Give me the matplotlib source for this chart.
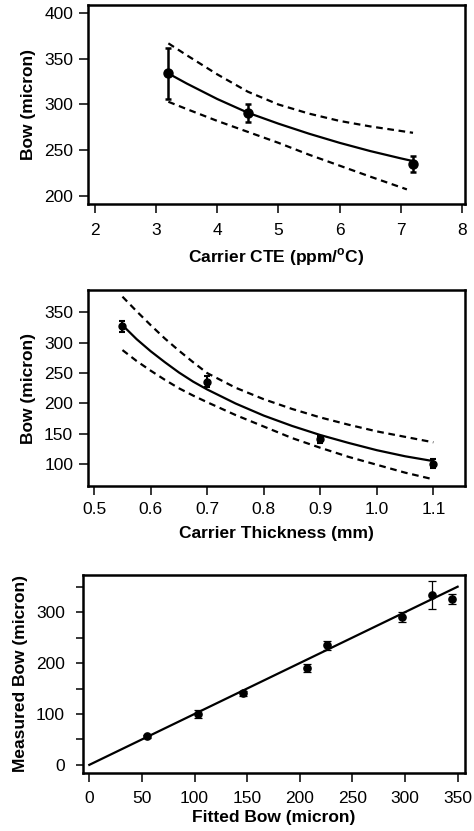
import matplotlib
matplotlib.use("Agg")
import matplotlib.pyplot as plt
from matplotlib.ticker import MultipleLocator

# carrier CTE study: measured bow with error, fitted curve and confidence band
cte = [3.2, 4.5, 7.2]
cte_bow = [334, 291, 235]
cte_err = [28, 10, 9]
cte_fit_x = [3.2, 3.5, 4.0, 4.5, 5.0, 5.5, 6.0, 6.5, 7.0, 7.2]
cte_fit = [334, 323, 306, 291, 279, 268, 258, 249, 241, 238]
cte_hi = [367, 354, 333, 314, 300, 290, 282, 276, 271, 269]
cte_lo_x = [3.2, 3.5, 4.0, 4.5, 5.0, 5.5, 6.0, 6.5, 7.1]
cte_lo = [303, 295, 282, 270, 258, 245, 233, 221, 207]

# carrier thickness study
thick = [0.55, 0.70, 0.90, 1.10]
thick_bow = [327, 236, 141, 101]
thick_err = [9, 9, 6, 8]
thick_fit_x = [0.55, 0.575, 0.60, 0.625, 0.65, 0.675, 0.70, 0.75, 0.80,
               0.85, 0.90, 0.95, 1.00, 1.05, 1.10]
thick_fit = [329, 306, 286, 268, 251, 236, 223, 200, 180, 163, 148, 135,
             123, 113, 105]
thick_hi = [376, 352, 329, 307, 287, 268, 250, 226, 207, 191, 177, 165,
            154, 145, 136]
thick_lo = [288, 270, 254, 239, 225, 213, 202, 181, 162, 143, 127, 112,
            99, 86, 75]

# measured vs fitted bow, all samples
fitted = [55, 103, 146, 207, 226, 297, 326, 345]
measured = [56, 100, 141, 191, 235, 291, 334, 326]
measured_err = [3, 8, 5, 8, 9, 10, 27, 9]
unity = [0, 350]

plt.rcParams.update({
    "font.family": ["Liberation Sans", "DejaVu Sans"],
    "font.size": 12.5,
    "axes.linewidth": 1.8,
    "xtick.direction": "out",
    "ytick.direction": "out",
    "xtick.major.size": 6.7,
    "ytick.major.size": 6.7,
    "ytick.minor.size": 6.7,
    "xtick.major.width": 1.1,
    "ytick.major.width": 1.1,
    "ytick.minor.width": 1.1,
    "xtick.major.pad": 7,
    "ytick.major.pad": 4,
    "mathtext.fontset": "custom",
    "mathtext.rm": "Liberation Sans:bold",
})

DASH = (0, (3, 2.1))

fig = plt.figure(figsize=(4.74, 8.31), dpi=100)
ax1 = fig.add_axes([88 / 474, 1 - 204 / 831, 377 / 474, 199 / 831])
ax2 = fig.add_axes([88 / 474, 1 - 486 / 831, 377 / 474, 196 / 831])
ax3 = fig.add_axes([83 / 474, 1 - 773 / 831, 382 / 474, 198 / 831])

# top: bow vs carrier CTE
ax1.plot(cte_fit_x, cte_fit, color="black", lw=1.6)
ax1.plot(cte_fit_x, cte_hi, color="black", lw=1.6, linestyle=DASH)
ax1.plot(cte_lo_x, cte_lo, color="black", lw=1.6, linestyle=DASH)
ax1.errorbar(cte, cte_bow, yerr=cte_err, fmt="o", color="black",
             markersize=6.5, elinewidth=1.8, capsize=2.5, capthick=1.8)
ax1.set_xlim(1.886, 8.05)
ax1.set_ylim(191, 409)
ax1.xaxis.set_major_locator(MultipleLocator(1))
ax1.yaxis.set_major_locator(MultipleLocator(50))
ax1.set_xlabel(r"Carrier CTE (ppm/$^{\mathrm{o}}$C)", fontweight="bold",
               labelpad=6)
ax1.set_ylabel("Bow (micron)", fontweight="bold", labelpad=6)

# middle: bow vs carrier thickness
ax2.plot(thick_fit_x, thick_fit, color="black", lw=1.6)
ax2.plot(thick_fit_x, thick_hi, color="black", lw=1.6, linestyle=DASH)
ax2.plot(thick_fit_x, thick_lo, color="black", lw=1.6, linestyle=DASH)
ax2.errorbar(thick, thick_bow, yerr=thick_err, fmt="o", color="black",
             markersize=5, elinewidth=1.5, capsize=2.5, capthick=1.5)
ax2.set_xlim(0.489, 1.156)
ax2.set_ylim(64, 387)
ax2.xaxis.set_major_locator(MultipleLocator(0.1))
ax2.yaxis.set_major_locator(MultipleLocator(50))
ax2.xaxis.set_major_formatter(lambda v, pos: f"{v:.1f}")
ax2.tick_params(axis="x", pad=5)
ax2.set_xlabel("Carrier Thickness (mm)", fontweight="bold", labelpad=6)
ax2.set_ylabel("Bow (micron)", fontweight="bold", labelpad=6)

# bottom: measured vs fitted
ax3.plot(unity, unity, color="black", lw=1.6)
ax3.errorbar(fitted, measured, yerr=measured_err, fmt="o", color="black",
             markersize=5.2, elinewidth=0.9, capsize=3, capthick=0.9)
ax3.set_xlim(-6, 357)
ax3.set_ylim(-16, 373)
ax3.xaxis.set_major_locator(MultipleLocator(50))
ax3.yaxis.set_major_locator(MultipleLocator(100))
ax3.yaxis.set_minor_locator(MultipleLocator(50))
ax3.tick_params(axis="x", pad=6.5)
ax3.tick_params(axis="y", which="both", length=5, pad=8)
ax3.set_xlabel("Fitted Bow (micron)", fontweight="bold", labelpad=2.5)
ax3.set_ylabel("Measured Bow (micron)", fontweight="bold", labelpad=5.5)

for ax in (ax1, ax2, ax3):
    ax.tick_params(top=False, right=False)

fig.savefig("out.png", dpi=100)
